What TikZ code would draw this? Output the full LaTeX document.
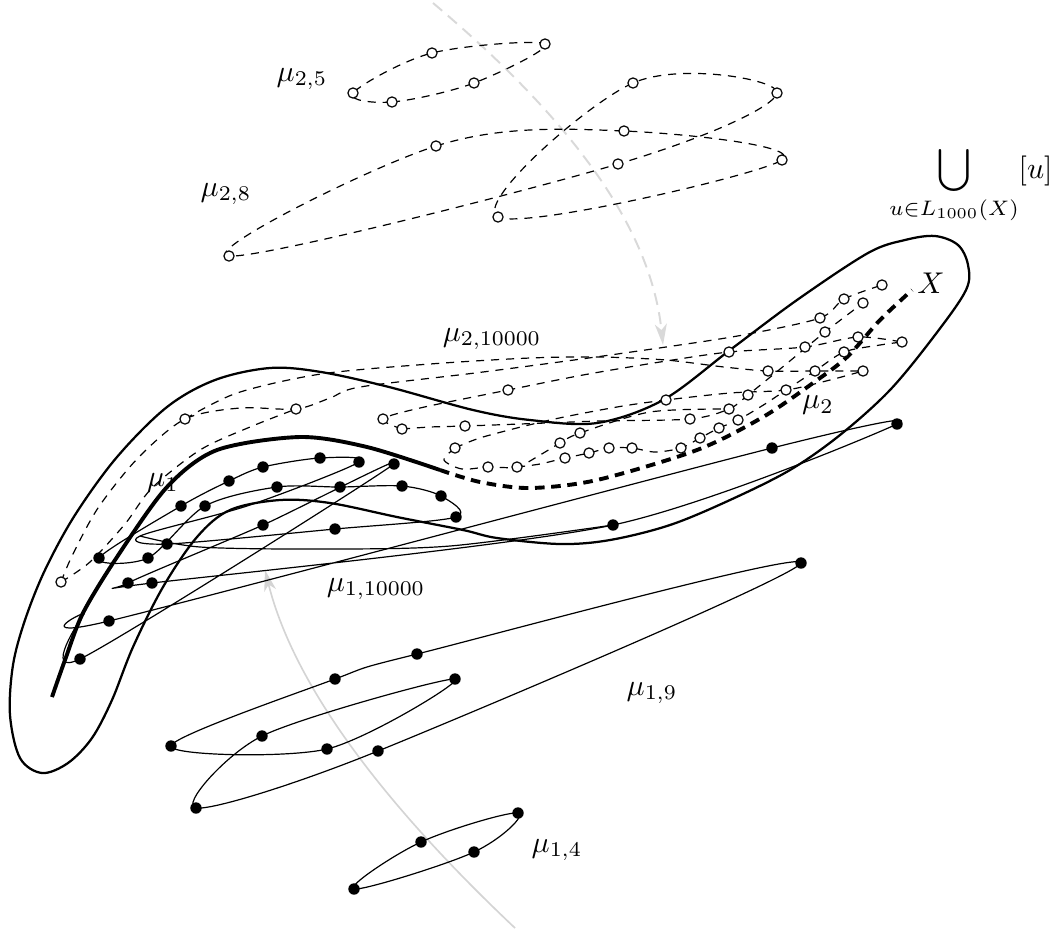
\documentclass[tikz,border=0pt]{standalone}
\usetikzlibrary{arrows.meta}
\begin{document}
\begin{tikzpicture}[x=0.3333pt,y=-0.3333pt,line join=round,
  thinline/.style={line width=0.4pt},
  dashline/.style={line width=0.4pt,dash pattern=on 2.7pt off 2.3pt},
  bound/.style={line width=0.75pt},
  xsolid/.style={line width=1.3pt},
  xdash/.style={line width=1.3pt,dash pattern=on 3.2pt off 2.2pt},
  greydash/.style={draw=black!15,line width=0.65pt,dash pattern=on 4pt off 2.5pt,-{Stealth[length=7pt,width=4pt,inset=2pt]}},
  greysolid/.style={draw=black!17,line width=0.55pt,-{Stealth[length=7pt,width=4pt,inset=2pt]}},
  blackdot/.style={fill=black},
  whitedot/.style={draw=black,fill=white,line width=0.4pt}]
\useasboundingbox (0,0) rectangle (1059,930);

% ---------------- grey arrows
\coordinate (ga1) at (433,3);
\coordinate (ga2) at (663,345);
\coordinate (gb1) at (515,928);
\coordinate (gb2) at (265,570);
\draw[greydash] (ga1) .. controls (560,110) and (650,220) .. (ga2);
\draw[greysolid] (gb1) .. controls (390,810) and (295,690) .. (gb2);

% ---------------- mu_{2,5}
\coordinate (e1) at (353,93);
\coordinate (e2) at (392,102);
\coordinate (e3) at (474,83);
\coordinate (e4) at (545,44);
\coordinate (e5) at (432,53);
\draw[dashline] plot[smooth cycle,tension=0.55] coordinates {(e1) (e2) (e3) (e4) (e5)};

% ---------------- mu_{2,8}
\coordinate (g1) at (229,256);
\coordinate (g2) at (436,146);
\coordinate (g3) at (624,131);
\coordinate (g4) at (782,160);
\coordinate (g5) at (498,217);
\coordinate (g6) at (633,83);
\coordinate (g7) at (777,93);
\coordinate (g8) at (618,164);
\draw[dashline] plot[smooth cycle,tension=0.6] coordinates {(g1) (g2) (g3) (g4) (g5) (g6) (g7) (g8)};

% ---------------- mu_{2,10000}
\coordinate (c1) at (61,582);
\coordinate (c2) at (185,419);
\coordinate (c3) at (296,409);
\coordinate (c4) at (383,419);
\coordinate (c5) at (402,429);
\coordinate (c6) at (465,426);
\coordinate (c7) at (508,390);
\coordinate (c8) at (455,448);
\coordinate (c9) at (488,467);
\coordinate (c10) at (517,467);
\coordinate (c11) at (560,443);
\coordinate (c12) at (580,433);
\coordinate (c13) at (565,458);
\coordinate (c14) at (589,453);
\coordinate (c15) at (609,448);
\coordinate (c16) at (632,448);
\coordinate (c17) at (666,400);
\coordinate (c18) at (690,419);
\coordinate (c19) at (729,352);
\coordinate (c20) at (681,448);
\coordinate (c21) at (700,438);
\coordinate (c22) at (719,428);
\coordinate (c23) at (738,420);
\coordinate (c24) at (729,409);
\coordinate (c25) at (748,395);
\coordinate (c26) at (768,371);
\coordinate (c27) at (786,390);
\coordinate (c28) at (805,347);
\coordinate (c29) at (815,371);
\coordinate (c30) at (825,332);
\coordinate (c31) at (820,318);
\coordinate (c32) at (844,299);
\coordinate (c33) at (863,303);
\coordinate (c34) at (882,285);
\coordinate (c35) at (858,337);
\coordinate (c36) at (844,352);
\coordinate (c37) at (863,371);
\coordinate (c38) at (902,342);

\draw[dashline] plot[smooth] coordinates {(c1) (72,556) (98,508) (138,458) (c2) (240,408) (c3) (330,398) (360,387) (475,373) (574,360) (666,347) (743,335) (c31) (c32) (c34)};
\draw[dashline] plot[smooth] coordinates {(c1) (90,562) (125,524) (152,488) (200,450) (250,427) (c3)};
\draw[dashline] plot[smooth] coordinates {(c2) (237,393) (321,374) (430,364) (530,358) (600,357) (666,360) (724,367) (c26) (c29) (c37)};
\draw[dashline] plot[smooth] coordinates {(c5) (c4) (420,408) (c7) (583,375) (660,362) (c19) (c28) (c35) (c38)};
\draw[dashline] plot[smooth] coordinates {(c5) (430,427) (c6) (520,424) (600,421) (c18) (c24) (c25) (785,365) (c30) (c33)};
\draw[dashline] plot[smooth] coordinates {(c8) (483,437) (550,420) (617,407) (c17) (730,393) (c27) (830,380) (c37)};
\draw[dashline] plot[smooth] coordinates {(c8) (444,460) (462,469) (c9) (c10) (540,455) (c11) (c12) (650,412) (c24)};
\draw[dashline] plot[smooth] coordinates {(c10) (540,464) (c13) (c14) (c15) (c16) (655,452) (c20) (c21) (c22) (c23) (765,404) (c27) (c29) (c36) (880,345) (c38)};

% ---------------- big closed curve
\draw[bound] plot[smooth cycle,tension=0.55] coordinates {
 (42,773) (20,758) (10,715) (13,665) (25,620) (45,570) (75,515) (117,457)
 (167,407) (215,380) (270,368) (321,372) (389,387) (473,410) (530,420)
 (597,423) (663,400) (730,350) (797,300) (868,253) (905,240) (935,236)
 (958,245) (968,265) (966,290) (935,335) (890,390) (840,435) (790,470)
 (730,500) (670,525) (610,540) (560,544) (497,538) (463,530) (397,517)
 (330,503) (280,500) (230,510) (197,537) (163,587) (133,647) (112,700)
 (92,738) (68,763)};

% ---------------- curve X
\draw[xsolid] plot[smooth] coordinates {(52,697) (65,660) (83,613) (117,557) (167,487) (217,450) (300,437) (367,447) (440,470)};
\draw[xdash] plot[smooth] coordinates {(440,470) (480,482) (530,488) (597,480) (697,450) (763,417) (813,383) (847,357) (880,320) (912,290)};

% ---------------- mu_{1,10000}
\coordinate (d1) at (181,506);
\coordinate (d2) at (229,481);
\coordinate (d3) at (263,467);
\coordinate (d4) at (320,458);
\coordinate (d5) at (359,462);
\coordinate (d6) at (394,464);
\coordinate (d7) at (205,506);
\coordinate (d8) at (277,487);
\coordinate (d9) at (340,487);
\coordinate (d10) at (402,486);
\coordinate (d11) at (441,496);
\coordinate (d12) at (456,517);
\coordinate (d13) at (263,525);
\coordinate (d14) at (335,529);
\coordinate (d15) at (167,544);
\coordinate (d16) at (99,558);
\coordinate (d17) at (148,558);
\coordinate (d18) at (128,583);
\coordinate (d19) at (152,583);
\coordinate (d20) at (109,621);
\coordinate (d21) at (80,659);
\coordinate (d22) at (613,525);
\coordinate (d23) at (772,448);
\coordinate (d24) at (897,424);
\draw[thinline] plot[smooth cycle,tension=0.45] coordinates {(d21) (d6) (d13) (d18) (d19) (d22) (d24) (d23) (d20) (84,614)};
\draw[thinline] plot[smooth cycle,tension=0.5] coordinates {(d16) (d1) (d2) (d3) (d4) (d5) (250,505) (140,536) (d15) (d14) (d12) (d11) (d10) (d9) (d8) (d7) (d17)};
\draw[thinline] plot[smooth] coordinates {(140,536) (200,547) (320,549) (450,546) (d22)};

% ---------------- mu_{1,9}
\coordinate (n1) at (335,679);
\coordinate (n2) at (417,654);
\coordinate (n3) at (801,563);
\coordinate (n4) at (378,751);
\coordinate (n5) at (196,808);
\coordinate (n6) at (262,736);
\coordinate (n7) at (455,679);
\coordinate (n8) at (327,749);
\coordinate (n9) at (171,746);
\draw[thinline] plot[smooth cycle,tension=0.5] coordinates {(n1) (n2) (n3) (n4) (n5) (n6) (n7) (n8) (n9)};

% ---------------- mu_{1,4}
\coordinate (f1) at (354,889);
\coordinate (f2) at (421,842);
\coordinate (f3) at (518,813);
\coordinate (f4) at (474,852);
\draw[thinline] plot[smooth cycle,tension=0.6] coordinates {(f1) (f2) (f3) (f4)};

% ---------------- points
\foreach \i in {1,...,5} \filldraw[whitedot] (e\i) circle[radius=1.7pt];
\foreach \i in {1,...,8} \filldraw[whitedot] (g\i) circle[radius=1.7pt];
\foreach \i in {1,...,38} \filldraw[whitedot] (c\i) circle[radius=1.7pt];
\foreach \i in {1,...,24} \fill[blackdot] (d\i) circle[radius=1.9pt];
\foreach \i in {1,...,9} \fill[blackdot] (n\i) circle[radius=1.9pt];
\foreach \i in {1,...,4} \fill[blackdot] (f\i) circle[radius=1.9pt];

% ---------------- labels
\node (l25) at (302,79) {$\mu_{2,5}$};
\node (l28) at (226,194) {$\mu_{2,8}$};
\node (l2k) at (492,339) {$\mu_{2,10000}$};
\node (l1k) at (376,589) {$\mu_{1,10000}$};
\node (l19) at (652,693) {$\mu_{1,9}$};
\node (l14) at (557,850) {$\mu_{1,4}$};
\node (lm1) at (163,483) {$\mu_1$};
\node (lm2) at (818,405) {$\mu_2$};
\node (lx) at (931,283) {$X$};
\node (lu) at (971,185) {$\displaystyle\bigcup_{u\in L_{1000}(X)}[u]$};
\end{tikzpicture}
\end{document}
